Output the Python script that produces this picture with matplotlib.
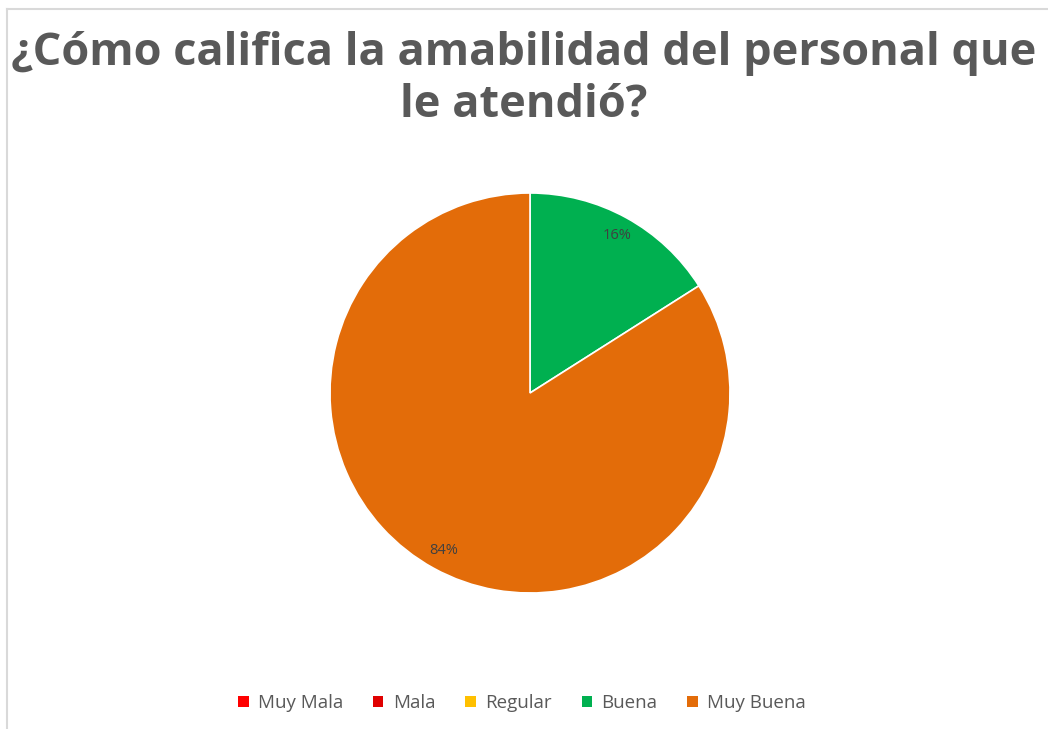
import matplotlib.pyplot as plt
from matplotlib.lines import Line2D
from matplotlib.patches import Patch

# Datos de la encuesta
categorias = ['Muy Mala', 'Mala', 'Regular', 'Buena', 'Muy Buena']
valores = [0, 0, 0, 16, 84]
colores = ['#FF0000', '#E00000', '#FFC000', '#00B050', '#E36C09']

titulo = '¿Cómo califica la amabilidad del personal que\nle atendió?'

fig = plt.figure(figsize=(10.48, 7.29), dpi=100)
fig.patch.set_facecolor('white')

# borde gris claro arriba y a la izquierda
fig.add_artist(Line2D([7 / 1048, 1], [1 - 9 / 729, 1 - 9 / 729], color='#D9D9D9', lw=1.5))
fig.add_artist(Line2D([7 / 1048, 7 / 1048], [0, 1 - 9 / 729], color='#D9D9D9', lw=1.5))

fig.text(0.5, 0.958, titulo, ha='center', va='top', fontsize=32.5, fontweight='bold',
         color='#595959', family='Open Sans', linespacing=1.22)

ax = fig.add_axes([(530 - 200) / 1048, (729 - 593) / 729, 400 / 1048, 400 / 729])


def etiqueta(p):
    return f'{p:.0f}%' if p > 0.5 else ''


wedges, textos, autotextos = ax.pie(valores, colors=colores, startangle=90, counterclock=False,
                                    autopct=etiqueta, pctdistance=0.9,
                                    wedgeprops=dict(edgecolor='white', linewidth=1.2),
                                    textprops=dict(color='#404040', fontsize=10.5, family='Open Sans'))
ax.set_xlim(-1, 1)
ax.set_ylim(-1, 1)
ax.set_aspect('equal')

handles = [Patch(facecolor=c, edgecolor='none') for c in colores]
fig.legend(handles, categorias, loc='center', bbox_to_anchor=(522 / 1048, 1 - 703 / 729),
           ncol=5, frameon=False, handlelength=0.55, handleheight=0.55, handletextpad=0.5,
           columnspacing=1.6, prop=dict(family='Open Sans', size=13.5), labelcolor='#595959')

fig.savefig('out.png', dpi=100)
